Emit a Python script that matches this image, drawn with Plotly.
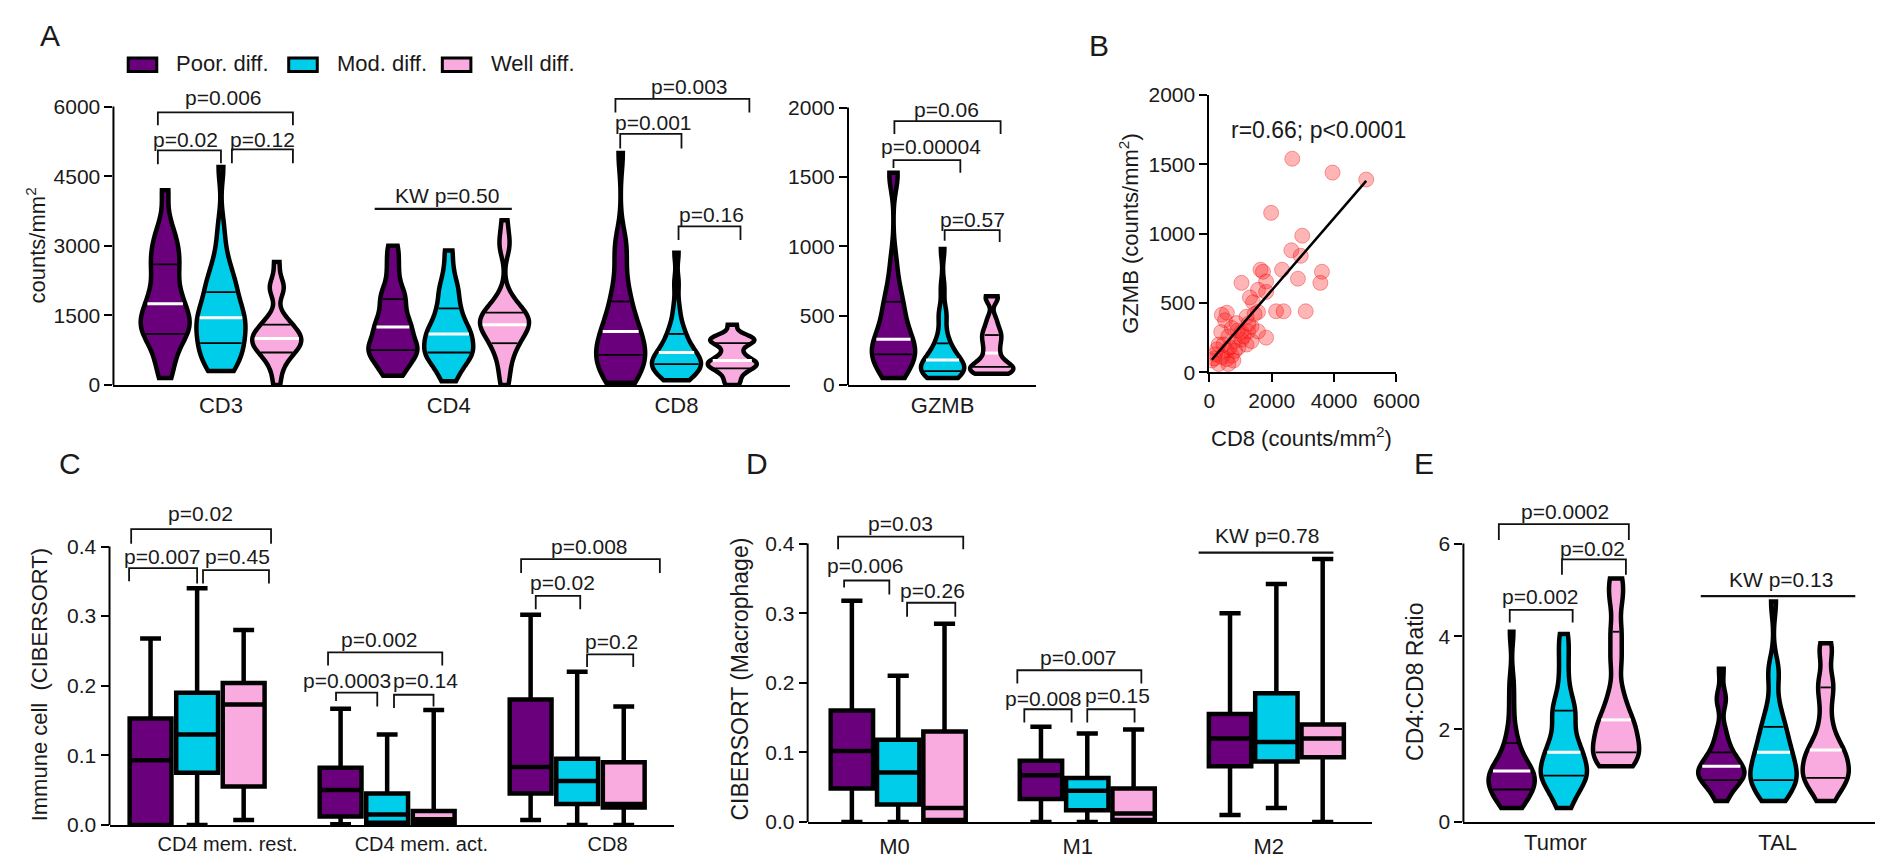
import numpy as np
import plotly.graph_objects as go

W, H = 1890, 860
FONT = "Liberation Sans, Arial, sans-serif"
PURPLE, CYAN, PINK = "#6B007D", "#00CDEA", "#F9ABDF"
GROUP_COLORS = [PURPLE, CYAN, PINK]
GROUP_NAMES = ["Poor. diff.", "Mod. diff.", "Well diff."]

# ---------------- Panel A : counts/mm2 (violins) ----------------
a_categories = ["CD3", "CD4", "CD8"]
cd3_poor = [150, 400, 650, 850, 1000, 1100, 1150, 1250, 1350, 1400, 1450, 1550, 1700, 1800, 1900,
            2050, 2250, 2450, 2600, 2700, 2900, 3050, 3200, 3500, 4200]
cd3_mod = [300, 350, 450, 550, 650, 750, 850, 900, 950, 1050, 1150, 1250, 1350, 1400, 1450, 1500,
           1550, 1650, 1800, 1950, 2050, 2150, 2250, 2400, 2600, 2900, 3400, 4700]
cd3_well = [0, 300, 500, 600, 700, 750, 800, 850, 900, 950, 1000, 1000, 1050, 1100, 1150, 1250,
            1300, 1350, 1500, 2000, 2100, 2200, 2650]
cd4_poor = [200, 300, 450, 550, 650, 700, 750, 800, 850, 950, 1050, 1150, 1250, 1300, 1400, 1550,
            1700, 1850, 1950, 2100, 2400, 2700, 3000]
cd4_mod = [80, 250, 400, 500, 600, 650, 700, 750, 800, 900, 1000, 1050, 1100, 1150, 1250, 1350,
           1450, 1600, 1700, 1900, 2050, 2200, 2500, 2900]
cd4_well = [0, 300, 550, 750, 900, 950, 1050, 1150, 1250, 1300, 1300, 1350, 1400, 1450, 1500, 1550,
            1600, 1750, 1900, 3000, 3050, 3550]
cd8_poor = [50, 80, 150, 250, 350, 450, 550, 600, 650, 700, 750, 850, 950, 1050, 1150, 1200, 1300,
            1450, 1600, 1800, 1950, 2200, 2600, 3000, 3100, 5000]
cd8_mod = [100, 150, 200, 250, 300, 350, 400, 420, 450, 480, 500, 550, 600, 650, 700, 750, 800, 900,
           1000, 1100, 1200, 1400, 1700, 2200, 2850]
cd8_well = [0, 120, 250, 330, 380, 420, 450, 480, 520, 560, 650, 750, 880, 930, 960, 990, 1020, 1060,
            1300]
a_values = [[cd3_poor, cd3_mod, cd3_well], [cd4_poor, cd4_mod, cd4_well], [cd8_poor, cd8_mod, cd8_well]]
a_q1 = [[1100, 900, 700], [750, 700, 900], [650, 450, 356]]
a_median = [[1750, 1450, 1000], [1250, 1100, 1300], [1150, 700, 525]]
a_q3 = [[2600, 2000, 1300], [1850, 1650, 1560], [1800, 1100, 900]]

g_categories = ["GZMB"]
gzmb_poor = [50, 80, 120, 150, 180, 200, 220, 240, 260, 280, 300, 330, 360, 400, 450, 500, 550, 600,
             650, 750, 900, 1500, 1530]
gzmb_mod = [50, 60, 70, 80, 90, 100, 110, 120, 130, 140, 150, 170, 180, 200, 220, 250, 280, 320, 380,
            500, 520, 700, 980]
gzmb_well = [80, 90, 100, 110, 120, 130, 140, 160, 200, 240, 280, 320, 350, 380, 420, 480, 620, 640]
g_values = [[gzmb_poor, gzmb_mod, gzmb_well]]
g_q1 = [[220, 100, 130]]
g_median = [[330, 180, 230]]
g_q3 = [[600, 300, 360]]

# ---------------- Panel B : scatter ----------------
b_cd8 = [2660, 3950, 5030, 1980, 2980, 2630, 2930, 1640, 1720, 2330, 3610, 3560, 2840, 1030, 1820,
         1560, 1820, 1300, 1400, 2140, 2380, 3090, 1560, 400, 560, 500, 1190, 1350, 870, 720, 380,
         1030, 1240, 1820, 610, 820, 1030, 450, 1190, 240, 560, 720, 80, 300, 560, 770, 190, 930,
         400, 820, 610, 1350, 1560, 1100, 650, 300, 150, 900, 1250, 1450]
b_gzmb = [1540, 1440, 1390, 1150, 985, 880, 840, 740, 725, 740, 725, 645, 675, 645, 655, 595, 580,
          540, 505, 440, 440, 440, 435, 415, 430, 375, 400, 330, 355, 320, 290, 290, 295, 250, 260,
          225, 235, 200, 200, 165, 155, 120, 85, 60, 95, 85, 130, 180, 110, 155, 60, 225, 295, 260,
          180, 200, 100, 300, 350, 420]

# ---------------- Panel C : CIBERSORT immune cells (box) ----------------
c_categories = ["CD4 mem. rest.", "CD4 mem. act.", "CD8"]
c_upper = [[0.268, 0.340, 0.280], [0.167, 0.130, 0.165], [0.302, 0.220, 0.170]]
c_q3 = [[0.153, 0.190, 0.204], [0.082, 0.045, 0.020], [0.180, 0.095, 0.090]]
c_median = [[0.093, 0.130, 0.173], [0.050, 0.015, 0.008], [0.083, 0.063, 0.030]]
c_q1 = [[0.000, 0.075, 0.055], [0.012, 0.003, 0.003], [0.045, 0.030, 0.025]]
c_lower = [[0.000, 0.000, 0.007], [0.001, 0.000, 0.000], [0.007, 0.000, 0.000]]

# ---------------- Panel D : CIBERSORT macrophages (box) ----------------
d_categories = ["M0", "M1", "M2"]
d_upper = [[0.318, 0.210, 0.285], [0.137, 0.127, 0.133], [0.300, 0.342, 0.378]]
d_q3 = [[0.160, 0.118, 0.130], [0.088, 0.063, 0.048], [0.155, 0.185, 0.140]]
d_median = [[0.102, 0.071, 0.020], [0.067, 0.045, 0.012], [0.120, 0.115, 0.120]]
d_q1 = [[0.048, 0.025, 0.003], [0.033, 0.017, 0.003], [0.080, 0.087, 0.093]]
d_lower = [[0.000, 0.000, 0.000], [0.000, 0.000, 0.000], [0.010, 0.020, 0.000]]

# ---------------- Panel E : CD4:CD8 ratio (violins) ----------------
e_categories = ["Tumor", "TAL"]
tum_poor = [0.3, 0.35, 0.45, 0.55, 0.6, 0.65, 0.7, 0.75, 0.8, 0.85, 0.9, 0.95, 1.0, 1.05, 1.1, 1.1,
            1.15, 1.2, 1.3, 1.45, 1.6, 1.75, 2.0, 2.5, 3.0, 4.1]
tum_mod = [0.3, 0.5, 0.65, 0.8, 0.9, 0.95, 1.0, 1.05, 1.1, 1.2, 1.3, 1.4, 1.5, 1.55, 1.65, 1.8, 2.0,
           2.2, 2.35, 2.45, 2.6, 2.9, 3.3, 3.7, 4.05]
tum_well = [1.2, 1.3, 1.45, 1.5, 1.7, 1.9, 2.0, 2.2, 2.4, 2.8, 3.5, 4.1, 4.8, 5.25]
tal_poor = [0.45, 0.6, 0.75, 0.85, 0.9, 0.95, 1.0, 1.0, 1.05, 1.1, 1.15, 1.2, 1.25, 1.3, 1.4, 1.5,
            1.6, 1.8, 2.0, 2.6, 2.7, 3.3]
tal_mod = [0.45, 0.55, 0.7, 0.8, 0.85, 0.9, 0.95, 1.0, 1.1, 1.2, 1.3, 1.4, 1.5, 1.55, 1.7, 1.85, 2.0,
           2.1, 2.3, 2.6, 3.2, 3.3, 4.75]
tal_well = [0.45, 0.6, 0.8, 0.9, 0.95, 1.0, 1.1, 1.2, 1.3, 1.4, 1.5, 1.55, 1.7, 1.9, 2.2, 2.6, 2.9,
            3.1, 3.6, 3.85]
e_values = [[tum_poor, tum_mod, tum_well], [tal_poor, tal_mod, tal_well]]
e_q1 = [[0.7, 1.0, 1.5], [0.9, 0.9, 0.95]]
e_median = [[1.1, 1.5, 2.2], [1.2, 1.5, 1.55]]
e_q3 = [[1.7, 2.4, 4.1], [1.5, 2.05, 2.9]]

# ---------------- layout geometry (pixels) ----------------
PANELS = {
    "A": dict(n="", xpx=(101, 788), xr=(-0.472, 2.498), ybot=375, ytick_px=89, ytick_val=6000, yr=(0, 6700)),
    "G": dict(n="2", xpx=(847, 1038), xr=(-0.416, 0.411), ybot=375, ytick_px=90, ytick_val=2000, yr=(0, 2100)),
    "B": dict(n="3", xpx=(1214, 1404), xr=(0, 6000), ybot=362, ytick_px=77, ytick_val=2000, yr=(0, 2000)),
    "C": dict(n="4", xpx=(97, 670), xr=(-0.461, 2.508), ybot=827, ytick_px=541, ytick_val=0.4, yr=(0, 0.47)),
    "D": dict(n="5", xpx=(806, 1379), xr=(-0.479, 2.505), ybot=824, ytick_px=538, ytick_val=0.4, yr=(0, 0.45)),
    "E": dict(n="6", xpx=(1472, 1890), xr=(-0.479, 1.484), ybot=824, ytick_px=538, ytick_val=6, yr=(0, 7.2)),
}
for p in PANELS.values():
    ppu = (p["ybot"] - p["ytick_px"]) / p["ytick_val"]
    top_px = p["ybot"] - (p["yr"][1] - p["yr"][0]) * ppu
    p["xdom"] = [p["xpx"][0] / W, p["xpx"][1] / W]
    p["ydom"] = [1 - p["ybot"] / H, 1 - top_px / H]
    p["xunit"] = (p["xpx"][1] - p["xpx"][0]) / (p["xr"][1] - p["xr"][0])
    p["xa"] = "x" + p["n"]
    p["ya"] = "y" + p["n"]

fig = go.Figure()
shapes, annos = [], []
OFFS = [-0.245, 0.0, 0.245]


def kde_scaled(vals, bw, t):
    v = np.asarray(vals, float)
    lo, hi = v.min(), v.max()
    n = int(np.ceil((hi - lo) / (bw / 3.0)))
    grid = lo + (hi - lo) / n * np.arange(n + 1)
    k = lambda s: np.exp(-0.5 * ((np.atleast_1d(s)[None, :] - v[:, None]) / bw) ** 2).sum(0)
    return float(k(t)[0] / k(grid).max())


vid = [0]


def violin_panel(key, values, q1, med, q3, width, offs):
    p = PANELS[key]
    pad = 2.5 / p["xunit"]
    for ci, per_cat in enumerate(values):
        for gi, vals in enumerate(per_cat):
            pos = ci + offs[gi]
            bw = 0.075 * (max(vals) - min(vals))
            vid[0] += 1
            fig.add_trace(go.Violin(
                x=[pos] * len(vals), y=vals, width=width, spanmode="hard", bandwidth=bw,
                scalegroup="v%d" % vid[0], fillcolor=GROUP_COLORS[gi],
                line=dict(color="black", width=4.5), points=False, box_visible=False,
                meanline_visible=False, showlegend=False, hoverinfo="skip",
                xaxis=p["xa"], yaxis=p["ya"]))
            for val, col, lw in ((q1[ci][gi], "black", 1.8), (q3[ci][gi], "black", 1.8),
                                 (med[ci][gi], "white", 3)):
                hw = width / 2 * kde_scaled(vals, bw, val) - pad
                if hw > 0:
                    shapes.append(dict(type="line", xref=p["xa"], yref=p["ya"], x0=pos - hw, x1=pos + hw,
                                       y0=val, y1=val, line=dict(color=col, width=lw), layer="above"))


def box_panel(key, lower, q1, med, q3, upper, width, offs):
    p = PANELS[key]
    ncat = len(q1)
    for gi in range(3):
        fig.add_trace(go.Box(
            x=[ci + offs[gi] for ci in range(ncat)],
            lowerfence=[lower[ci][gi] for ci in range(ncat)],
            q1=[q1[ci][gi] for ci in range(ncat)],
            median=[med[ci][gi] for ci in range(ncat)],
            q3=[q3[ci][gi] for ci in range(ncat)],
            upperfence=[upper[ci][gi] for ci in range(ncat)],
            width=width, whiskerwidth=0.5, fillcolor=GROUP_COLORS[gi],
            line=dict(color="black", width=4.5), boxpoints=False, showlegend=False,
            hoverinfo="skip", xaxis=p["xa"], yaxis=p["ya"]))


violin_panel("A", a_values, a_q1, a_median, a_q3, 0.215, OFFS)
violin_panel("G", g_values, g_q1, g_median, g_q3, 0.19, [-0.216, 0.0, 0.216])
violin_panel("E", e_values, e_q1, e_median, e_q3, 0.22, [-0.249, 0.0, 0.249])
box_panel("C", c_lower, c_q1, c_median, c_q3, c_upper, 0.22, OFFS)
box_panel("D", d_lower, d_q1, d_median, d_q3, d_upper, 0.224, OFFS)

# scatter B
pB = PANELS["B"]
bx, by = np.array(b_cd8, float), np.array(b_gzmb, float)
fig.add_trace(go.Scatter(x=bx, y=by, mode="markers", showlegend=False, hoverinfo="skip",
                         marker=dict(size=15, color="rgba(255,30,30,0.33)",
                                     line=dict(color="rgba(230,0,0,0.35)", width=1)),
                         xaxis=pB["xa"], yaxis=pB["ya"]))
slope, icpt = np.polyfit(bx, by, 1)
xl = np.array([bx.min(), bx.max()])
fig.add_trace(go.Scatter(x=xl, y=slope * xl + icpt, mode="lines", showlegend=False, hoverinfo="skip",
                         line=dict(color="black", width=2.5), xaxis=pB["xa"], yaxis=pB["ya"]))

# ---------------- significance brackets ----------------
# (panel, x_left, x_right, bar_y, left_leg_end, right_leg_end, label, label_x, label_y)
brackets = [
    ("A", -0.277, 0.0, 5056, 4760, 4780, "p=0.02", -0.156, 5290),
    ("A", 0.048, 0.316, 5077, 4780, 4780, "p=0.12", 0.182, 5290),
    ("A", -0.277, 0.316, 5874, 5601, 5601, "p=0.006", 0.009, 6189),
    ("A", 0.675, 1.277, 3797, None, None, "KW p=0.50", 0.991, 4091),
    ("A", 1.753, 2.022, 5413, 5098, 5098, "p=0.001", 1.900, 5665),
    ("A", 1.732, 2.320, 6168, 5874, 5874, "p=0.003", 2.056, 6440),
    ("A", 2.009, 2.281, 3420, 3126, 3126, "p=0.16", 2.152, 3671),
    ("G", -0.216, 0.078, 1621, 1565, 1530, "p=0.00004", -0.052, 1719),
    ("G", -0.212, 0.255, 1902, 1810, 1810, "p=0.06", 0.017, 1986),
    ("G", 0.009, 0.251, 1116, 1039, 1030, "p=0.57", 0.130, 1193),
    ("C", -0.358, 0.0, 0.369, 0.350, 0.347, "p=0.007", -0.181, 0.386),
    ("C", 0.031, 0.378, 0.366, 0.347, 0.347, "p=0.45", 0.212, 0.386),
    ("C", -0.347, 0.389, 0.425, 0.404, 0.404, "p=0.02", 0.016, 0.448),
    ("C", 0.731, 0.948, 0.190, 0.178, 0.170, "p=0.0003", 0.788, 0.207),
    ("C", 1.036, 1.244, 0.187, 0.168, 0.170, "p=0.14", 1.202, 0.207),
    ("C", 0.689, 1.290, 0.248, 0.229, 0.229, "p=0.002", 0.959, 0.266),
    ("C", 1.782, 2.016, 0.329, 0.310, 0.310, "p=0.02", 1.922, 0.348),
    ("C", 2.052, 2.295, 0.245, 0.227, 0.227, "p=0.2", 2.181, 0.263),
    ("C", 1.705, 2.435, 0.382, 0.362, 0.362, "p=0.008", 2.067, 0.400),
    ("D", -0.286, -0.047, 0.347, 0.337, 0.327, "p=0.006", -0.172, 0.369),
    ("D", 0.047, 0.302, 0.315, 0.295, 0.295, "p=0.26", 0.182, 0.333),
    ("D", -0.318, 0.344, 0.410, 0.392, 0.392, "p=0.03", 0.010, 0.429),
    ("D", 0.667, 0.917, 0.162, 0.143, 0.143, "p=0.008", 0.766, 0.178),
    ("D", 1.000, 1.250, 0.162, 0.143, 0.143, "p=0.15", 1.161, 0.182),
    ("D", 0.630, 1.286, 0.218, 0.199, 0.199, "p=0.007", 0.953, 0.236),
    ("D", 1.589, 2.302, 0.387, None, None, "KW p=0.78", 1.953, 0.411),
    ("E", -0.258, 0.042, 4.57, 4.30, 4.30, "p=0.002", -0.113, 4.85),
    ("E", -0.009, 0.296, 5.66, 5.33, 5.33, "p=0.02", 0.136, 5.89),
    ("E", -0.310, 0.310, 6.42, 6.08, 6.08, "p=0.0002", 0.005, 6.69),
    ("E", 0.653, 1.390, 4.87, None, None, "KW p=0.13", 1.038, 5.22),
]
for key, x0, x1, yb, yl0, yl1, lab, tx, ty in brackets:
    p = PANELS[key]
    if yl0 is None:
        path = "M %g,%g L %g,%g" % (x0, yb, x1, yb)
        lw = 2.2
    else:
        path = "M %g,%g L %g,%g L %g,%g L %g,%g" % (x0, yl0, x0, yb, x1, yb, x1, yl1)
        lw = 1.8
    shapes.append(dict(type="path", path=path, xref=p["xa"], yref=p["ya"],
                       line=dict(color="#111", width=lw)))
    annos.append(dict(x=tx, y=ty, xref=p["xa"], yref=p["ya"], text=lab, showarrow=False,
                      font=dict(size=21, color="#1a1a1a", family=FONT), xanchor="center", yanchor="middle"))

# ---------------- axes ----------------
tickfont = dict(size=21, color="#1a1a1a", family=FONT)
catfont = dict(size=22, color="#1a1a1a", family=FONT)
xticks = {
    "A": ([0, 1, 2], a_categories),
    "G": ([0], g_categories),
    "C": ([0.16, 1.18, 2.16], c_categories),
    "D": ([-0.02, 0.95, 1.96], d_categories),
    "E": ([-0.04, 1.02], e_categories),
}
yticks = {
    "A": [0, 1500, 3000, 4500, 6000],
    "G": [0, 500, 1000, 1500, 2000],
    "B": [0, 500, 1000, 1500, 2000],
    "C": [0, 0.1, 0.2, 0.3, 0.4],
    "D": [0, 0.1, 0.2, 0.3, 0.4],
    "E": [0, 2, 4, 6],
}
layout_axes = {}
for key, p in PANELS.items():
    xa = dict(domain=p["xdom"], range=list(p["xr"]), anchor=p["ya"], showline=True, linecolor="black",
              linewidth=2, showgrid=False, zeroline=False, tickfont=tickfont, fixedrange=True)
    if key == "B":
        xa.update(tickvals=[0, 2000, 4000, 6000], ticks="outside", ticklen=8, tickwidth=2, tickcolor="black")
    else:
        tv, tt = xticks[key]
        xa.update(tickvals=tv, ticktext=tt, ticks="", tickfont=catfont if key != "C" else
                  dict(size=20, color="#1a1a1a", family=FONT))
        if key == "D":
            xa.update(ticklabelstandoff=4)
    ya = dict(domain=p["ydom"], range=list(p["yr"]), anchor=p["xa"], showgrid=False, zeroline=False,
              tickvals=yticks[key], ticks="outside", ticklen=8, tickwidth=2, tickcolor="black",
              tickfont=tickfont, fixedrange=True, showline=(key == "B"), linecolor="black", linewidth=2)
    if key in ("C", "D"):
        ya.update(tickformat=".1f")
    layout_axes["xaxis" + p["n"]] = xa
    layout_axes["yaxis" + p["n"]] = ya
    if key != "B":
        shapes.append(dict(type="line", xref="paper", yref=p["ya"], x0=p["xdom"][0], x1=p["xdom"][0],
                           y0=0, y1=p["ytick_val"], line=dict(color="black", width=2)))

# ---------------- titles, panel letters, legend ----------------
def px_anno(x, y, text, size=22, angle=0, xanchor="center"):
    annos.append(dict(x=x / W, y=1 - y / H, xref="paper", yref="paper", text=text, showarrow=False,
                      textangle=angle, xanchor=xanchor, yanchor="middle",
                      font=dict(size=size, color="#1a1a1a", family=FONT)))

px_anno(22, 232, "counts/mm<sup>2</sup>", angle=-90)
px_anno(1132, 220, "GZMB (counts/mm<sup>2</sup>)", angle=-90)
px_anno(1308, 428, "CD8 (counts/mm<sup>2</sup>)")
px_anno(1325, 113, "r=0.66; p<0.0001", size=23)
px_anno(26, 683, "Immune cell  (CIBERSORT)", angle=-90)
px_anno(737, 677, "CIBERSORT (Macrophage)", angle=-90, size=23)
px_anno(1423, 680, "CD4:CD8 Ratio", angle=-90, size=23)
for letter, lx, ly in (("A", 37, 16), ("B", 1102, 26), ("C", 57, 456), ("D", 755, 456), ("E", 1432, 456)):
    px_anno(lx, ly, letter, size=30)

legend_px = [(116, 163), (279, 326), (435, 482)]
for gi, (sx, tx) in enumerate(legend_px):
    shapes.append(dict(type="rect", xref="paper", yref="paper", x0=sx / W, x1=(sx + 29) / W,
                       y0=1 - 53 / H, y1=1 - 39 / H, fillcolor=GROUP_COLORS[gi],
                       line=dict(color="black", width=3)))
    px_anno(tx, 45, GROUP_NAMES[gi], size=22, xanchor="left")

fig.update_layout(width=W, height=H, margin=dict(l=0, r=0, t=0, b=0), paper_bgcolor="white",
                  plot_bgcolor="white", violinmode="overlay", boxmode="overlay",
                  shapes=shapes, annotations=annos, font=dict(family=FONT), **layout_axes)
fig.write_html("out.html")
